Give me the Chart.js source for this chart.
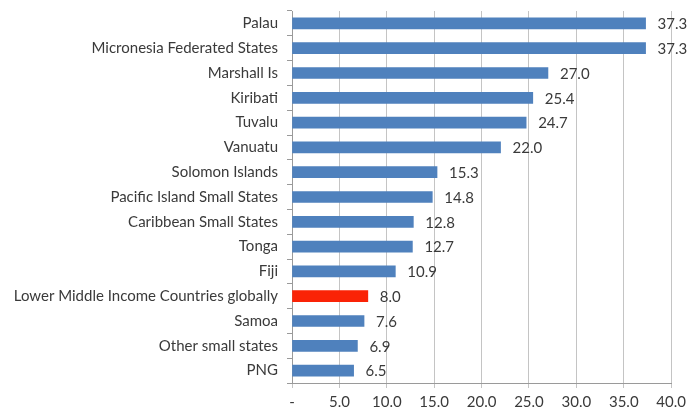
<!DOCTYPE html>
<html>
<head>
<meta charset="utf-8">
<script src="https://cdn.jsdelivr.net/npm/chart.js@4"></script>
<style>
  body { margin: 0; background: #fff; }
  #chart { display: block; }
</style>
</head>
<body>
<canvas id="chart" width="691" height="410"></canvas>
<script>
const countries = [
  'Palau', 'Micronesia Federated States', 'Marshall Is', 'Kiribati', 'Tuvalu',
  'Vanuatu', 'Solomon Islands', 'Pacific Island Small States', 'Caribbean Small States',
  'Tonga', 'Fiji', 'Lower Middle Income Countries globally', 'Samoa',
  'Other small states', 'PNG'
];
const values = [37.3, 37.3, 27.0, 25.4, 24.7, 22.0, 15.3, 14.8, 12.8, 12.7, 10.9, 8.0, 7.6, 6.9, 6.5];
const highlight = 'Lower Middle Income Countries globally';

const BLUE = '#4f81bd';
const RED = '#fa2306';
const TEXT = '#3a3a3a';
const FONT = 'Lato, "Open Sans", sans-serif';

// value labels to the right of each bar
const barValues = {
  id: 'barValues',
  afterDatasetsDraw(chart) {
    const c = chart.ctx;
    const meta = chart.getDatasetMeta(0);
    c.save();
    c.font = '15px ' + FONT;
    c.fillStyle = TEXT;
    c.textBaseline = 'middle';
    c.textAlign = 'left';
    meta.data.forEach((bar, i) => {
      c.fillText(values[i].toFixed(1), bar.x + 12, bar.y + 1);
    });
    c.restore();
  }
};

const ctx = document.getElementById('chart');
new Chart(ctx, {
  type: 'bar',
  data: {
    labels: countries,
    datasets: [{
      data: values,
      backgroundColor: countries.map(n => n === highlight ? RED : BLUE),
      barThickness: 11
    }]
  },
  options: {
    indexAxis: 'y',
    responsive: false,
    animation: false,
    layout: { padding: { top: 11, right: 18, bottom: 0, left: 0 } },
    plugins: {
      legend: { display: false },
      tooltip: { enabled: false }
    },
    scales: {
      x: {
        min: 0,
        max: 40,
        ticks: {
          stepSize: 5,
          color: TEXT,
          font: { family: FONT, size: 15 },
          padding: 5,
          maxRotation: 0,
          callback: v => v === 0 ? '-' : v.toFixed(1)
        },
        grid: { color: '#c4c4c4', tickLength: 5 },
        border: { color: '#9a9a9a' },
        afterFit: s => { s.height = 27; }
      },
      y: {
        ticks: {
          color: TEXT,
          font: { family: FONT, size: 15 },
          padding: 9
        },
        grid: { drawOnChartArea: false, offset: true, tickLength: 5, color: '#9a9a9a' },
        border: { color: '#9a9a9a' },
        afterFit: s => {
          s.width = 292;
          s.paddingTop = 0;
          s.paddingBottom = 0;
        }
      }
    }
  },
  plugins: [barValues]
});
</script>
</body>
</html>
